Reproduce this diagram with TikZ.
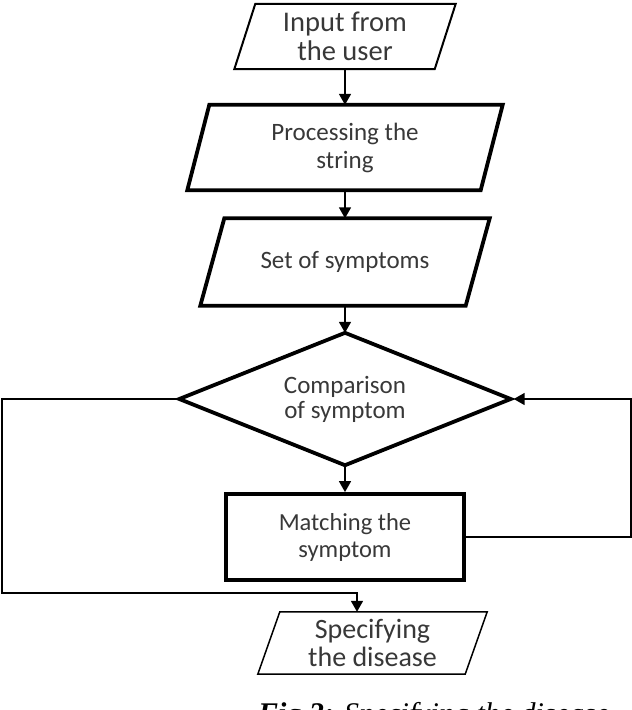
\documentclass[tikz,border=0pt]{standalone}
\usepackage{fontspec}
\setmainfont{Carlito}
\newfontfamily\capfont{Liberation Serif}
\usetikzlibrary{arrows.meta,calc}
\newcommand\mypgram[3]{\draw[#3] ([xshift=#2]#1.north west) -- ([xshift=#2]#1.north east) -- ([xshift=-#2]#1.south east) -- ([xshift=-#2]#1.south west) -- cycle;}
\begin{document}
\begin{tikzpicture}[x=1pt,y=-1pt,
  txt/.style={inner sep=0pt,align=center,text=black!78},
  conn/.style={line width=1.6pt,-{Triangle[width=12pt,length=11pt]}},
  thick4/.style={line width=3.8pt,line join=miter},
  thin2/.style={line width=2pt},
  thin15/.style={line width=1.5pt}]
\useasboundingbox (0,0) rectangle (632,710);
% nodes
\node[txt,minimum width=200pt,minimum height=65pt,font=\fontsize{28.5}{29}\selectfont] (in) at (345,36.5) {Input from\\the user};
\node[txt,minimum width=293pt,minimum height=85pt,font=\fontsize{25}{28}\selectfont] (pr) at (345,147.5) {Processing the\\string};
\node[txt,minimum width=265pt,minimum height=87pt,font=\fontsize{25}{28}\selectfont] (st) at (345,262) {Set of symptoms};
\node[txt,minimum width=331pt,minimum height=132pt,font=\fontsize{25}{25}\selectfont] (d) at (345,399) {Comparison\\of symptom};
\node[txt,minimum width=238pt,minimum height=86pt,font=\fontsize{24.5}{27}\selectfont,draw=black,line width=3.8pt,text=black!78] (m) at (345,537) {Matching the\\symptom};
\node[txt,minimum width=207pt,minimum height=62pt,font=\fontsize{28}{28}\selectfont] (s) at (372.5,643) {Specifying\\the disease};
% shapes
\mypgram{in}{10.5}{thin2}
\mypgram{pr}{11}{thick4}
\mypgram{st}{12}{thick4}
\draw[thick4] (d.north) -- (d.east) -- (d.south) -- (d.west) -- cycle;
\mypgram{s}{11}{thin15}
% connectors
\draw[conn] (in.south) -- (pr.north);
\draw[conn] (pr.south) -- (st.north);
\draw[conn] (st.south) -- (d.north);
\draw[conn] (d.south) -- (m.north);
\coordinate (rc) at (631,470);
\draw[conn,shorten >=3pt] (m.east) -| (rc) |- (d.east);
\coordinate (lb) at (2,593);
\coordinate (sin) at ([xshift=-15.5]s.north);
\draw[conn] (d.west) -| (lb) -| (sin);
% caption
\node[inner sep=0pt,anchor=base west,font=\capfont\fontsize{30}{32}\selectfont] (cap) at (258,723) {\textbf{\textit{Fig 3:}} \textit{Specifying the disease}};
\end{tikzpicture}
\end{document}
